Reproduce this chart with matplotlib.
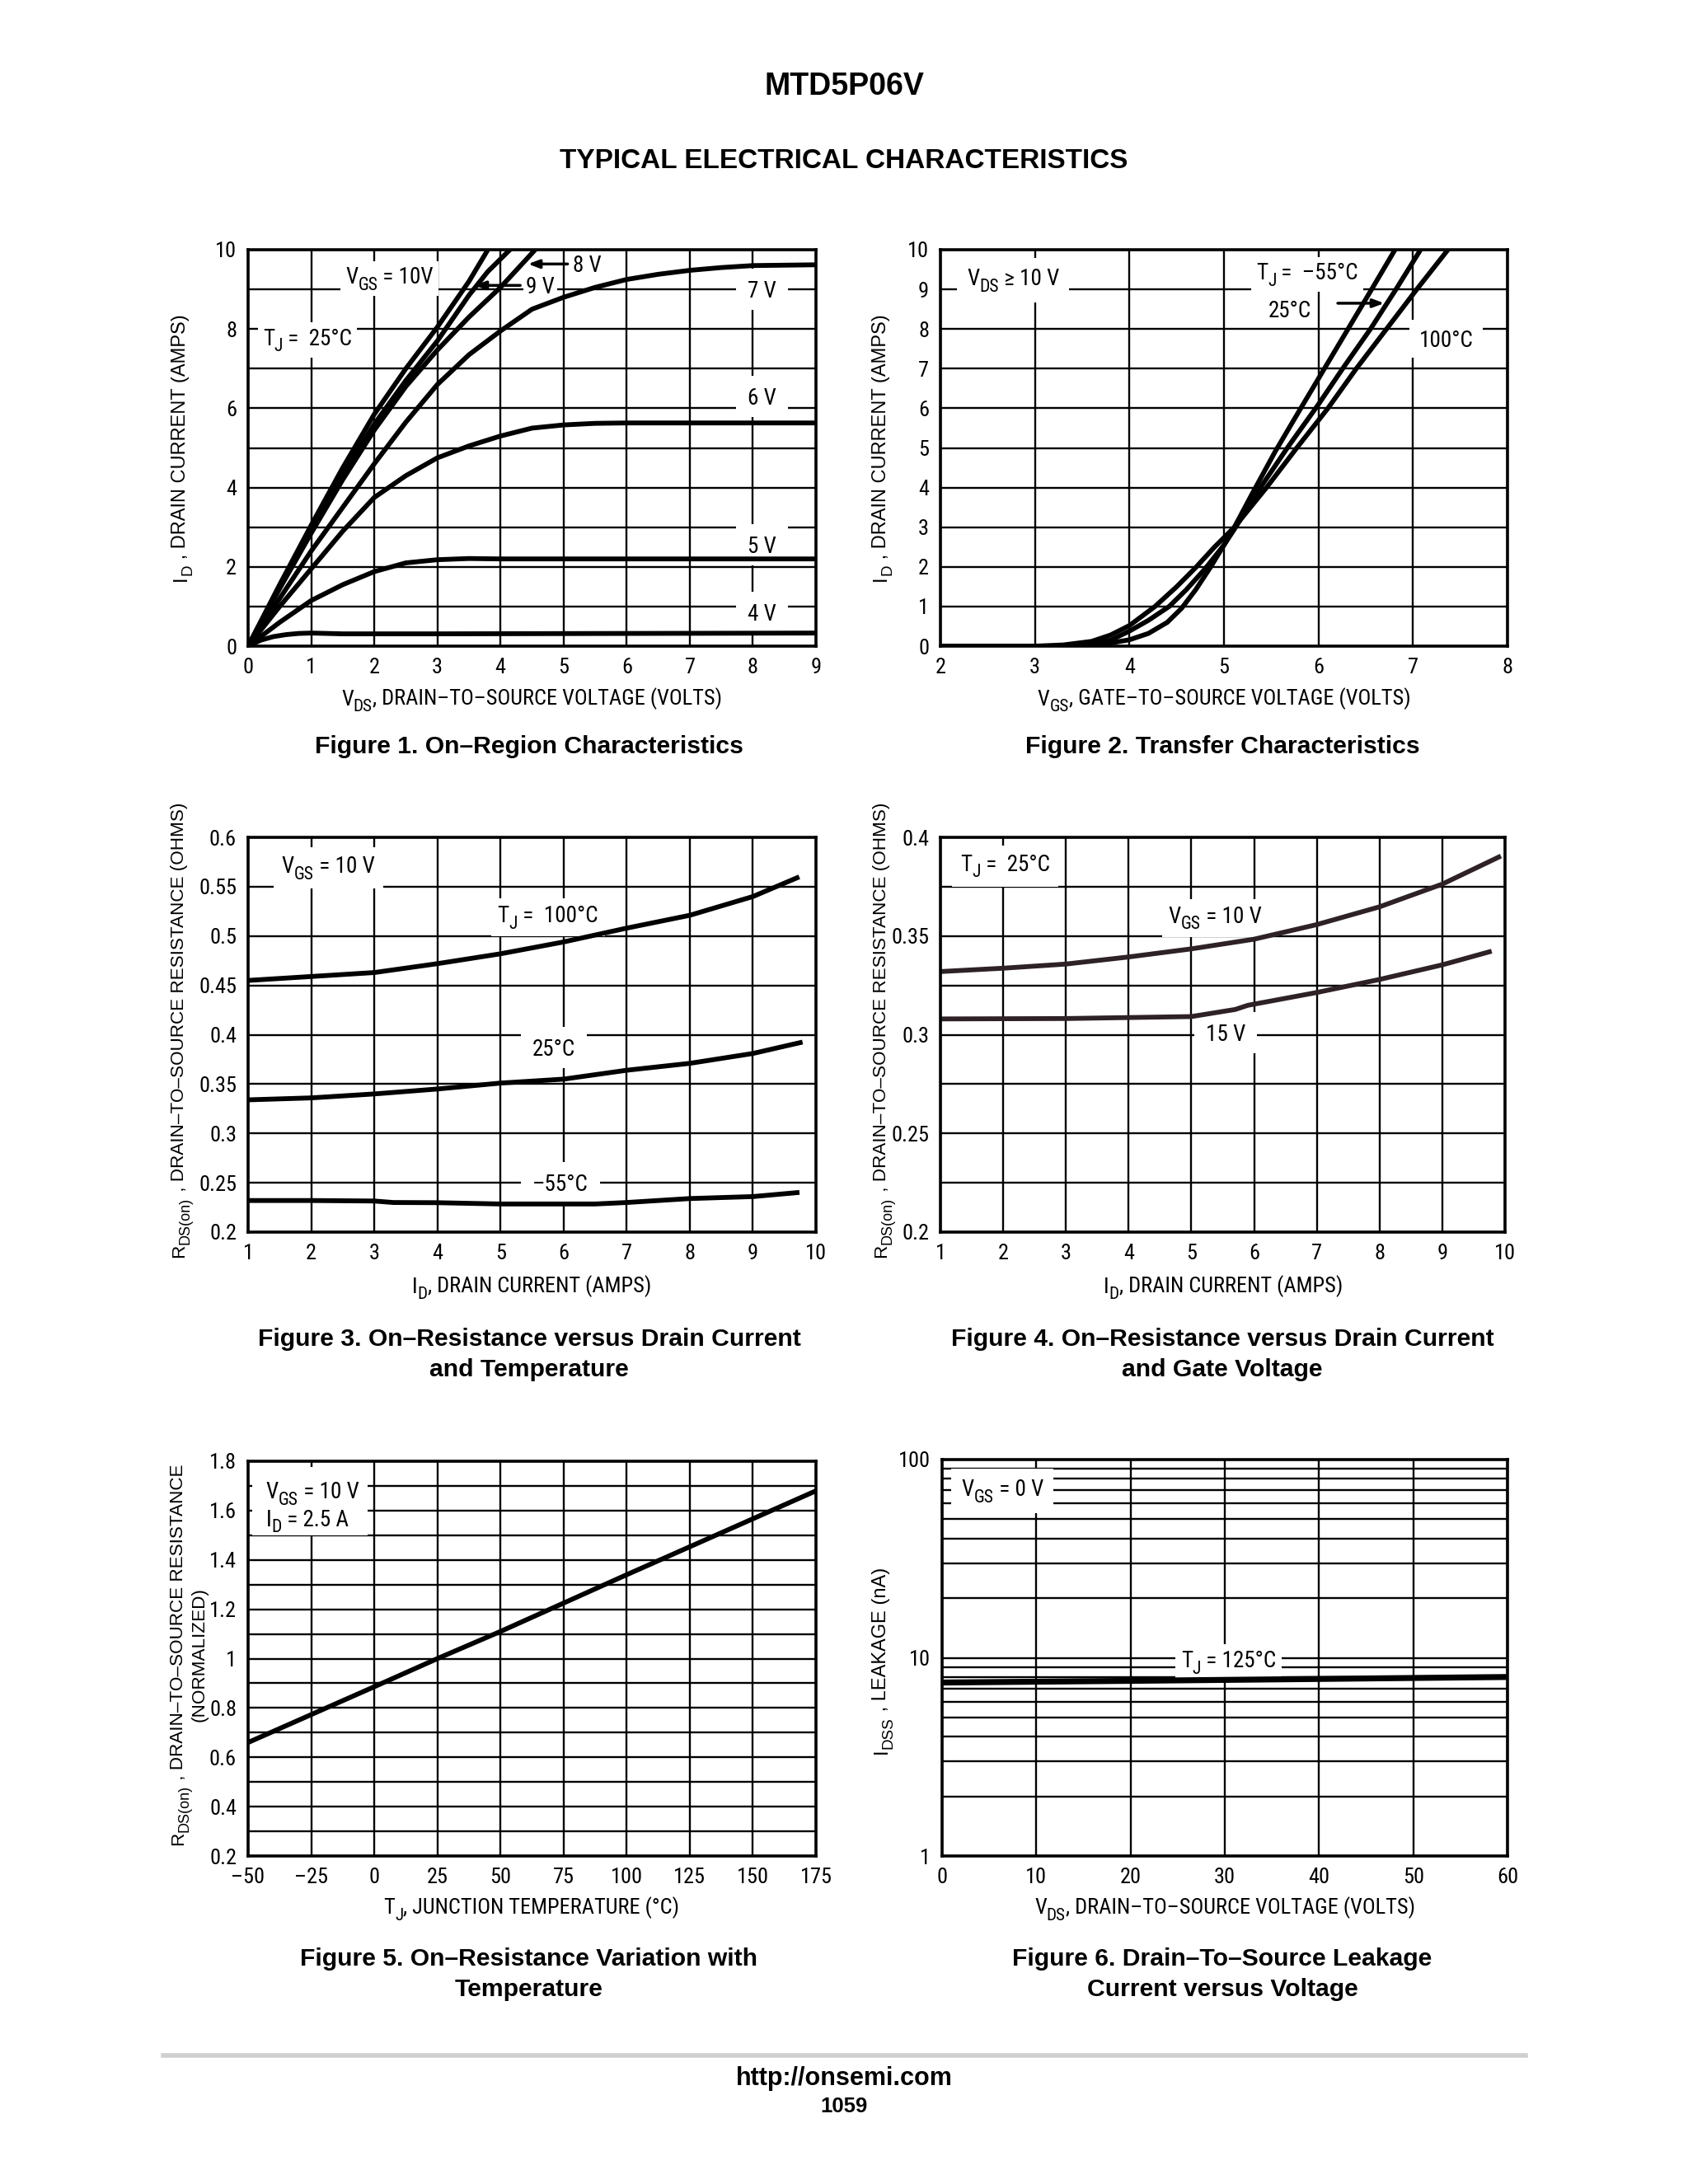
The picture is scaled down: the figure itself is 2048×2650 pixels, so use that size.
import matplotlib
matplotlib.use("Agg")
import matplotlib.pyplot as plt
import matplotlib.font_manager as fm
import matplotlib.transforms as mtrans
from matplotlib.font_manager import FontProperties
import numpy as np

# ---------------- data ----------------
# Figure 1: On-region characteristics (VDS vs ID), one curve per VGS
f1_10_x = [0, 0.5, 1, 1.5, 2, 2.5, 3, 3.5, 3.8]
f1_10_y = [0, 1.55, 3.05, 4.5, 5.85, 7.0, 8.05, 9.2, 10.0]
f1_9_x = [0, 0.5, 1, 1.5, 2, 2.5, 3, 3.5, 3.8, 4.15]
f1_9_y = [0, 1.5, 2.95, 4.35, 5.6, 6.7, 7.7, 8.85, 9.45, 10.0]
f1_8_x = [0, 0.5, 1, 1.5, 2, 2.5, 3, 3.5, 4, 4.55]
f1_8_y = [0, 1.45, 2.85, 4.2, 5.45, 6.55, 7.47, 8.3, 9.05, 10.0]
f1_7_x = [0, 0.5, 1, 1.5, 2, 2.5, 3, 3.5, 4, 4.5, 5, 5.5, 6, 6.5, 7, 7.5, 8, 9]
f1_7_y = [0, 1.2, 2.4, 3.5, 4.6, 5.65, 6.6, 7.35, 7.95, 8.5, 8.8, 9.05, 9.25, 9.38, 9.48, 9.55, 9.6, 9.62]
f1_6_x = [0, 0.5, 1, 1.5, 2, 2.5, 3, 3.5, 4, 4.5, 5, 5.5, 6, 9]
f1_6_y = [0, 1.0, 1.95, 2.9, 3.75, 4.3, 4.75, 5.05, 5.3, 5.5, 5.58, 5.62, 5.63, 5.63]
f1_5_x = [0, 0.25, 0.5, 1, 1.5, 2, 2.5, 3, 3.5, 4, 9]
f1_5_y = [0, 0.3, 0.6, 1.15, 1.55, 1.88, 2.1, 2.18, 2.21, 2.2, 2.2]
f1_4_x = [0, 0.2, 0.4, 0.6, 0.8, 1, 1.5, 3, 6, 9]
f1_4_y = [0, 0.15, 0.24, 0.29, 0.32, 0.33, 0.31, 0.31, 0.32, 0.33]

# Figure 2: transfer characteristics (VGS vs ID), one curve per TJ
f2_m55_x = [2, 3.3, 3.6, 3.8, 4.0, 4.2, 4.4, 4.55, 4.7, 4.86, 5.0, 5.11, 5.3, 5.54, 5.8, 6.05, 6.3, 6.55, 6.81]
f2_m55_y = [0, 0, 0.03, 0.08, 0.16, 0.32, 0.6, 0.95, 1.42, 2.0, 2.55, 3.0, 3.85, 4.9, 5.95, 6.95, 7.95, 8.95, 10.0]
f2_25_x = [2, 3.2, 3.5, 3.8, 4.0, 4.2, 4.42, 4.6, 4.8, 5.0, 5.11, 5.4, 5.67, 6.0, 6.27, 6.55, 6.82, 7.08]
f2_25_y = [0, 0, 0.03, 0.15, 0.38, 0.65, 1.0, 1.42, 1.95, 2.55, 2.95, 4.05, 5.0, 6.1, 7.05, 8.0, 9.0, 10.0]
f2_100_x = [2, 3.0, 3.3, 3.6, 3.8, 4.0, 4.27, 4.5, 4.7, 4.9, 5.11, 5.45, 5.77, 6.1, 6.4, 6.72, 7.04, 7.37]
f2_100_y = [0, 0, 0.03, 0.12, 0.28, 0.52, 1.0, 1.5, 1.98, 2.5, 3.0, 4.0, 5.0, 6.0, 7.0, 8.0, 9.0, 10.0]

# Figure 3: RDS(on) vs ID and temperature
f3_100_x = [1, 2, 3, 4, 5, 6, 7, 8, 9, 9.7]
f3_100 = [0.455, 0.459, 0.463, 0.472, 0.482, 0.494, 0.508, 0.521, 0.540, 0.559]
f3_25_x = [1, 2, 3, 4, 5, 6, 7, 8, 9, 9.75]
f3_25 = [0.334, 0.336, 0.340, 0.345, 0.351, 0.355, 0.364, 0.371, 0.381, 0.392]
f3_m55_x = [1, 2, 3, 3.3, 4, 5, 6, 6.5, 7, 8, 9, 9.7]
f3_m55 = [0.232, 0.232, 0.2315, 0.230, 0.2298, 0.2285, 0.2285, 0.2285, 0.230, 0.234, 0.236, 0.240]

# Figure 4: RDS(on) vs ID and gate voltage
f4_10_x = [1, 2, 3, 4, 5, 6, 7, 8, 9, 9.9]
f4_10 = [0.332, 0.3337, 0.3358, 0.3394, 0.3435, 0.3484, 0.3558, 0.3648, 0.3763, 0.390]
f4_15_x = [1, 3, 5, 5.7, 5.9, 7, 8, 9, 9.75]
f4_15 = [0.308, 0.3082, 0.3092, 0.3128, 0.3149, 0.3214, 0.328, 0.3354, 0.342]

# Figure 5: normalized RDS(on) vs temperature
f5_t = [-50, 0, 25, 50, 100, 175]
f5_r = [0.66, 0.886, 1.0, 1.11, 1.34, 1.68]

# Figure 6: IDSS leakage vs VDS
f6_v = [0, 20, 40, 60]
f6_i = [7.5, 7.65, 7.82, 8.0]

# ---------------- fonts ----------------
names = {f.name for f in fm.fontManager.ttflist}
COND = "Liberation Sans"
for cand in ["Roboto Condensed", "Liberation Sans Narrow", "Open Sans Condensed"]:
    if cand in names:
        COND = cand
        break
REG = "Liberation Sans"
plt.rcParams["font.family"] = [REG, "DejaVu Sans"]

TK = 19     # tick labels
XL = 19     # x axis labels
ANN = 19.5  # annotations
SUB = 0.8   # subscript scale
PX = 100 / 72.0

W, H = 2048, 2650
fig = plt.figure(figsize=(W / 100, H / 100), dpi=100)
fig.patch.set_facecolor("white")
renderer = fig.canvas.get_renderer()


def measure(s, size, family):
    fp = FontProperties(family=family, size=size)
    w, h, d = renderer.get_text_width_height_descent(s, fp, ismath=False)
    return w


def rich(target, base_tr, x, y, pieces, size, family, ha="center", rot=0,
         box=False, pad=6, zorder=6, color="black"):
    """pieces: list of (text, is_subscript)."""
    sizes = [size * (SUB if sub else 1.0) for _, sub in pieces]
    widths = [measure(s, sz, family) for (s, _), sz in zip(pieces, sizes)]
    total = sum(widths)
    t0 = {"center": -total / 2, "left": 0.0, "right": -total}[ha]
    capc = 0.36 * size * PX
    low = 0.28 * size * PX
    t = t0
    for (s, sub), sz, w in zip(pieces, sizes, widths):
        perp = -capc - (low if sub else 0.0)
        if rot == 0:
            dx, dy = t, perp
        else:
            dx, dy = -perp, t
        tr = mtrans.offset_copy(base_tr, fig=fig, x=dx, y=dy, units="dots")
        target.text(x, y, s, transform=tr, ha="left", va="baseline", rotation=rot,
                    rotation_mode="anchor", fontsize=sz, family=family, zorder=zorder,
                    color=color)
        t += w
    if box and rot == 0:
        X, Y = base_tr.transform((x, y))
        has_sub = any(sub for _, sub in pieces)
        bot = Y - capc - (low + 0.05 * size * PX if has_sub else 0.05 * size * PX) - pad
        top = Y + capc + 0.06 * size * PX + pad
        inv = target.transData.inverted()
        (x1, y1) = inv.transform((X + t0 - pad, bot))
        (x2, y2) = inv.transform((X + t0 + total + pad, top))
        # white knock-out behind the text: above the grid, below the curves
        target.add_patch(plt.Rectangle((x1, y1), x2 - x1, y2 - y1, fc="white", ec="none",
                                       zorder=2))


def ann(ax, x, y, pieces, ha="center", box=True, pad=6):
    if isinstance(pieces, str):
        pieces = [(pieces, False)]
    rich(ax, ax.transData, x, y, pieces, ANN, COND, ha=ha, box=box, pad=pad)


def ftxt(xp, yp, pieces, size, family, rot=0, ha="center"):
    rich(fig, fig.transFigure, xp / W, 1 - yp / H, pieces, size, family, ha=ha, rot=rot)


def ax_at(l, t, r, b):
    return fig.add_axes([l / W, 1 - b / H, (r - l) / W, (b - t) / H])


def style(ax):
    for s in ax.spines.values():
        s.set_linewidth(2.6)
        s.set_color("black")
        s.set_zorder(4)
    ax.tick_params(which="both", length=0, labelsize=TK, pad=10)
    for lab in ax.get_xticklabels() + ax.get_yticklabels():
        lab.set_family(COND)
    ax.grid(which="both", color="black", lw=1.7)
    ax.set_axisbelow(True)


LW = 4.2
ARW = dict(arrowstyle="-|>,head_length=0.8,head_width=0.3", color="black", lw=2.5)

# ---------- Figure 1 ----------
ax1 = ax_at(301, 303, 990, 784)
ax1.set_xlim(0, 9)
ax1.set_ylim(0, 10)
ax1.set_xticks(range(0, 10))
ax1.set_yticks([0, 2, 4, 6, 8, 10])
ax1.set_yticks([1, 3, 5, 7, 9], minor=True)
for xs, ys in [(f1_10_x, f1_10_y), (f1_9_x, f1_9_y), (f1_8_x, f1_8_y), (f1_7_x, f1_7_y),
               (f1_6_x, f1_6_y), (f1_5_x, f1_5_y), (f1_4_x, f1_4_y)]:
    ax1.plot(xs, ys, color="black", lw=LW, zorder=3)
style(ax1)
ann(ax1, 2.24, 9.35, [("V", False), ("GS", True), (" = 10V", False)])
ann(ax1, 0.94, 7.8, [("T", False), ("J", True), (" =  25°C", False)])
ann(ax1, 4.4, 9.1, "9 V", ha="left", pad=3)
ann(ax1, 5.15, 9.64, "8 V", ha="left", pad=3)
ax1.annotate("", xy=(3.55, 9.1), xytext=(4.35, 9.1), arrowprops=ARW, zorder=8)
ax1.annotate("", xy=(4.4, 9.64), xytext=(5.1, 9.64), arrowprops=ARW, zorder=8)
ann(ax1, 8.15, 9.0, "7 V", pad=14)
ann(ax1, 8.15, 6.3, "6 V", pad=14)
ann(ax1, 8.15, 2.55, "5 V", pad=14)
ann(ax1, 8.15, 0.85, "4 V", pad=14)

# ---------- Figure 2 ----------
ax2 = ax_at(1141, 303, 1829, 784)
ax2.set_xlim(2, 8)
ax2.set_ylim(0, 10)
ax2.set_xticks(range(2, 9))
ax2.set_yticks(range(0, 11))
for xs, ys in [(f2_m55_x, f2_m55_y), (f2_25_x, f2_25_y), (f2_100_x, f2_100_y)]:
    ax2.plot(xs, ys, color="black", lw=LW, zorder=3)
style(ax2)
ann(ax2, 2.77, 9.3, [("V", False), ("DS", True), (" ≥ 10 V", False)], pad=12)
ann(ax2, 5.88, 9.45, [("T", False), ("J", True), (" =  –55°C", False)])
ann(ax2, 5.7, 8.5, "25°C")
ax2.annotate("", xy=(6.72, 8.65), xytext=(6.18, 8.65), arrowprops=ARW, zorder=8)
ann(ax2, 7.35, 7.75, "100°C", pad=12)

# ---------- Figure 3 ----------
ax3 = ax_at(301, 1016, 990, 1495)
ax3.set_xlim(1, 10)
ax3.set_ylim(0.2, 0.6)
ax3.set_xticks(range(1, 11))
ax3.set_yticks([0.2, 0.25, 0.3, 0.35, 0.4, 0.45, 0.5, 0.55, 0.6])
ax3.set_yticklabels(["0.2", "0.25", "0.3", "0.35", "0.4", "0.45", "0.5", "0.55", "0.6"])
ax3.plot(f3_100_x, f3_100, color="black", lw=LW, zorder=3)
ax3.plot(f3_25_x, f3_25, color="black", lw=LW, zorder=3)
ax3.plot(f3_m55_x, f3_m55, color="black", lw=LW, zorder=3)
style(ax3)
ann(ax3, 2.27, 0.572, [("V", False), ("GS", True), (" = 10 V", False)], pad=10)
ann(ax3, 5.75, 0.522, [("T", False), ("J", True), (" =  100°C", False)], pad=8)
ann(ax3, 5.85, 0.387, "25°C", pad=14)
ann(ax3, 5.95, 0.25, "–55°C", pad=14)

# ---------- Figure 4 ----------
ax4 = ax_at(1141, 1016, 1826, 1495)
ax4.set_xlim(1, 10)
ax4.set_ylim(0.2, 0.4)
ax4.set_xticks(range(1, 11))
ax4.set_yticks([0.2, 0.25, 0.3, 0.35, 0.4])
ax4.set_yticklabels(["0.2", "0.25", "0.3", "0.35", "0.4"])
ax4.set_yticks([0.225, 0.275, 0.325, 0.375], minor=True)
ax4.plot(f4_10_x, f4_10, color="#2e2226", lw=LW, zorder=3)
ax4.plot(f4_15_x, f4_15, color="#2e2226", lw=LW, zorder=3)
style(ax4)
ann(ax4, 2.03, 0.387, [("T", False), ("J", True), (" =  25°C", False)], pad=10)
ann(ax4, 5.38, 0.3607, [("V", False), ("GS", True), (" = 10 V", False)], pad=8)
ann(ax4, 5.55, 0.301, "15 V", pad=14)

# ---------- Figure 5 ----------
ax5 = ax_at(301, 1773, 990, 2252)
ax5.set_xlim(-50, 175)
ax5.set_ylim(0.2, 1.8)
ax5.set_xticks(range(-50, 176, 25))
ax5.set_xticklabels(["–50", "–25", "0", "25", "50", "75", "100", "125", "150", "175"])
ax5.set_yticks([0.2, 0.4, 0.6, 0.8, 1.0, 1.2, 1.4, 1.6, 1.8])
ax5.set_yticklabels(["0.2", "0.4", "0.6", "0.8", "1", "1.2", "1.4", "1.6", "1.8"])
ax5.set_yticks([0.3, 0.5, 0.7, 0.9, 1.1, 1.3, 1.5, 1.7], minor=True)
ax5.plot(f5_t, f5_r, color="black", lw=LW, zorder=3)
style(ax5)
ax5.add_patch(plt.Rectangle((-48.5, 1.5), 46, 0.275, fc="white", ec="none", zorder=2))
ann(ax5, -43, 1.682, [("V", False), ("GS", True), (" = 10 V", False)], ha="left", box=False)
ann(ax5, -43, 1.57, [("I", False), ("D", True), (" = 2.5 A", False)], ha="left", box=False)

# ---------- Figure 6 ----------
ax6 = ax_at(1143, 1771, 1829, 2252)
ax6.set_yscale("log")
ax6.set_xlim(0, 60)
ax6.set_ylim(1, 100)
ax6.set_xticks(range(0, 61, 10))
ax6.set_yticks([1, 10, 100])
ax6.set_yticklabels(["1", "10", "100"])
ax6.yaxis.set_minor_locator(matplotlib.ticker.LogLocator(base=10, subs=range(2, 10)))
ax6.yaxis.set_minor_formatter(matplotlib.ticker.NullFormatter())
ax6.plot(f6_v, f6_i, color="black", lw=LW + 1, zorder=3)
style(ax6)
ann(ax6, 6.4, 72, [("V", False), ("GS", True), (" = 0 V", False)], pad=12)
ann(ax6, 30.4, 9.8, [("T", False), ("J", True), (" = 125°C", False)], pad=7)

# ---------- axis labels ----------
YL1 = 17
YL2 = 16.2
ftxt(645, 846, [("V", False), ("DS", True), (", DRAIN–TO–SOURCE VOLTAGE (VOLTS)", False)], XL, COND)
ftxt(1485, 846, [("V", False), ("GS", True), (", GATE–TO–SOURCE VOLTAGE (VOLTS)", False)], XL, COND)
ftxt(645, 1559, [("I", False), ("D", True), (", DRAIN CURRENT (AMPS)", False)], XL, COND)
ftxt(1484, 1559, [("I", False), ("D", True), (", DRAIN CURRENT (AMPS)", False)], XL, COND)
ftxt(645, 2313, [("T", False), ("J", True), (", JUNCTION TEMPERATURE (°C)", False)], XL, COND)
ftxt(1486, 2313, [("V", False), ("DS", True), (", DRAIN–TO–SOURCE VOLTAGE (VOLTS)", False)], XL, COND)

ftxt(217, 543, [("I", False), ("D", True), (" , DRAIN CURRENT (AMPS)", False)], YL1, REG, rot=90)
ftxt(1066, 543, [("I", False), ("D", True), (" , DRAIN CURRENT (AMPS)", False)], YL1, REG, rot=90)
ftxt(215, 1250, [("R", False), ("DS(on)", True), (" , DRAIN–TO–SOURCE RESISTANCE (OHMS)", False)],
     YL2, REG, rot=90)
ftxt(1067, 1250, [("R", False), ("DS(on)", True), (" , DRAIN–TO–SOURCE RESISTANCE (OHMS)", False)],
     YL2, REG, rot=90)
ftxt(214, 2008, [("R", False), ("DS(on)", True), (" , DRAIN–TO–SOURCE RESISTANCE", False)],
     YL2, REG, rot=90)
ftxt(240, 2008, [("(NORMALIZED)", False)], YL2, REG, rot=90)
ftxt(1067, 2015, [("I", False), ("DSS", True), (" , LEAKAGE (nA)", False)], YL1, REG, rot=90)

# ---------- page text ----------
def btext(x, y, s, size):
    fig.text(x / W, 1 - y / H, s, ha="center", va="center", fontsize=size, weight="bold", family=REG)

CAP = 21.7
btext(1024, 105, "MTD5P06V", 27)
btext(1024, 195, "TYPICAL ELECTRICAL CHARACTERISTICS", 24)
btext(642, 906, "Figure 1. On–Region Characteristics", CAP)
btext(1483, 906, "Figure 2. Transfer Characteristics", CAP)
btext(642, 1625, "Figure 3. On–Resistance versus Drain Current", CAP)
btext(642, 1662, "and Temperature", CAP)
btext(1483, 1625, "Figure 4. On–Resistance versus Drain Current", CAP)
btext(1483, 1662, "and Gate Voltage", CAP)
btext(642, 2377, "Figure 5. On–Resistance Variation with", CAP)
btext(642, 2414, "Temperature", CAP)
btext(1483, 2377, "Figure 6. Drain–To–Source Leakage", CAP)
btext(1483, 2414, "Current versus Voltage", CAP)
fig.add_artist(plt.Line2D([198 / W, 1851 / W], [1 - 2494 / H, 1 - 2494 / H], color="#cfcfcf", lw=4))
btext(1024, 2522, "http://onsemi.com", 22)
btext(1024, 2556, "1059", 18.5)

fig.savefig("out.png", dpi=100, facecolor="white")
